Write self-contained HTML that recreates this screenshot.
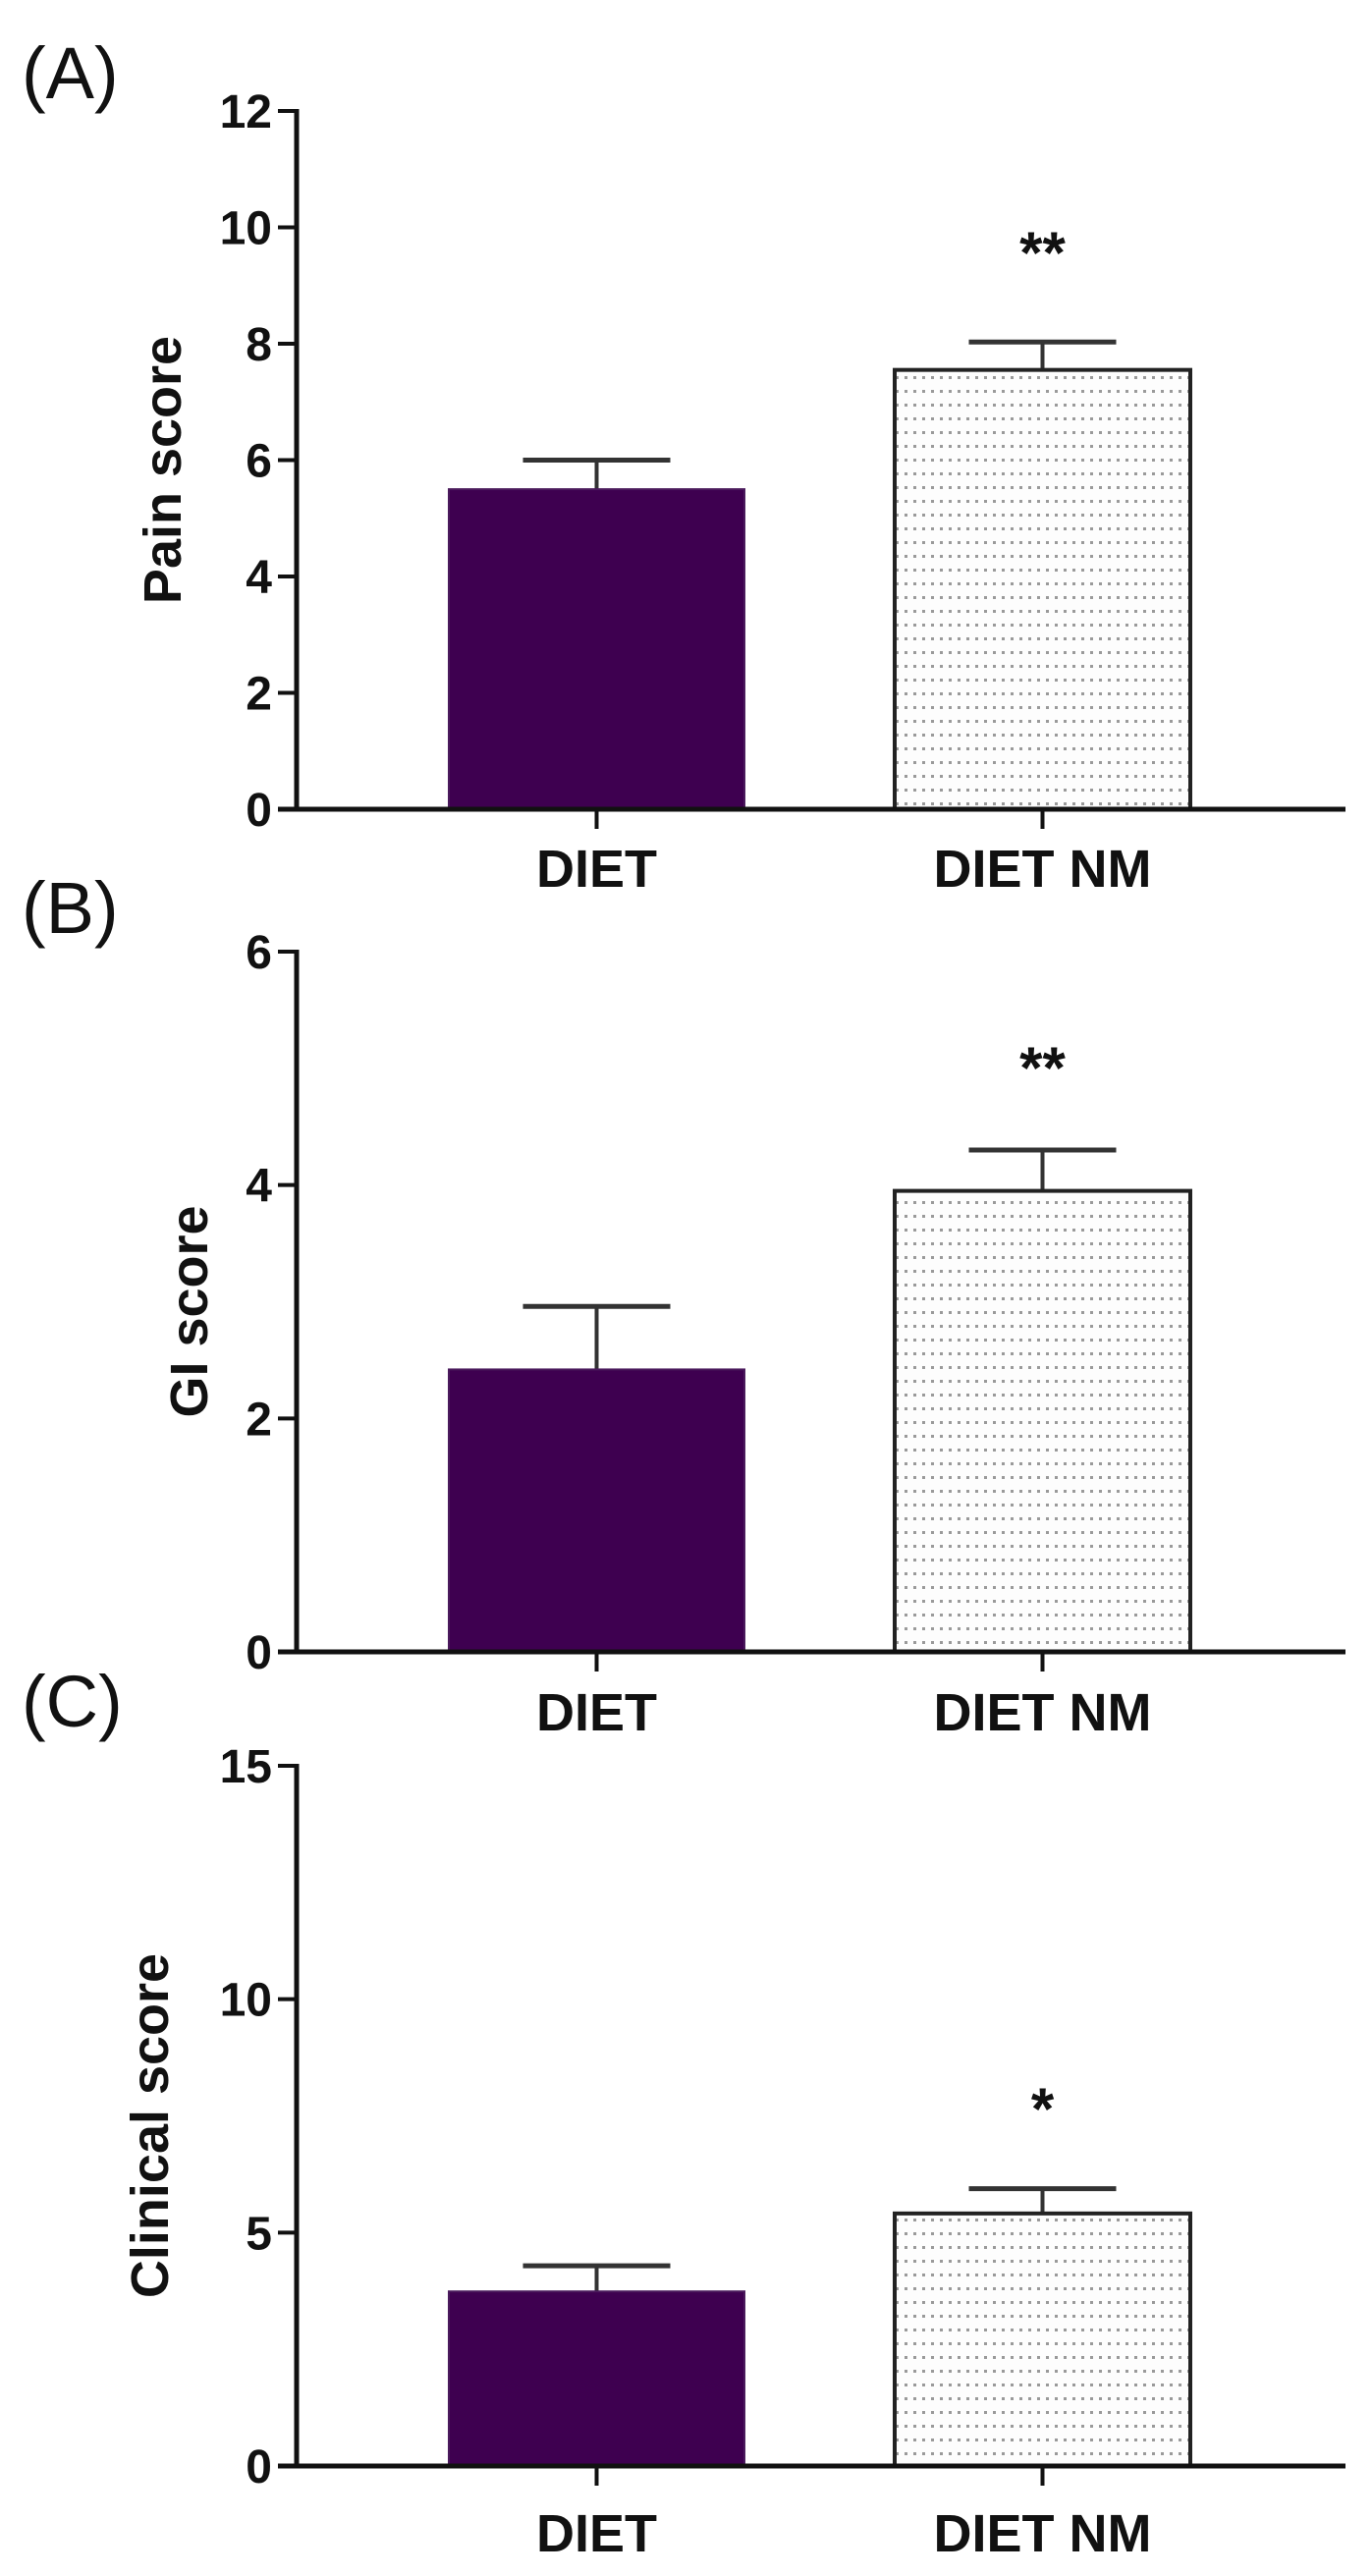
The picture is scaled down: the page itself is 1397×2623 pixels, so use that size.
<!DOCTYPE html>
<html><head><meta charset="utf-8"><style>
html,body{margin:0;padding:0;background:#fff;}
svg{display:block;}
text{font-family:"Liberation Sans",Arial,sans-serif;}
</style></head><body>
<svg id="fig" width="1397" height="2623" viewBox="0 0 1397 2623" xmlns="http://www.w3.org/2000/svg">
<defs>
<pattern id="dots" width="9" height="14" patternUnits="userSpaceOnUse">
<rect x="3" y="5" width="3" height="3" fill="#9a9a9a"/>
</pattern>
</defs>
</svg>
<script>
const categories = ["DIET", "DIET NM"];
const painMeans = [5.5, 7.55];
const painErr = [6.0, 8.03];
const painTicks = [0, 2, 4, 6, 8, 10, 12];
const giMeans = [2.42, 3.95];
const giErr = [2.96, 4.30];
const giTicks = [0, 2, 4, 6];
const clinMeans = [3.74, 5.41];
const clinErr = [4.29, 5.94];
const clinTicks = [0, 5, 10, 15];
const sigMarks = ["**", "**", "*"];

const NS = "http://www.w3.org/2000/svg";
const svg = document.getElementById('fig');
function mk(tag, attrs, parent) {
  const e = document.createElementNS(NS, tag);
  for (const k in attrs) e.setAttribute(k, attrs[k]);
  (parent || svg).appendChild(e);
  return e;
}

const panels = [
  {letter: "(A)", ly: 100, title: "Pain score", tx: 165, means: painMeans, err: painErr, ticks: painTicks, max: 12, yTop: 113, yBot: 824, sig: sigMarks[0], sigY: 278, labY: 903},
  {letter: "(B)", ly: 950, title: "GI score", tx: 192, means: giMeans, err: giErr, ticks: giTicks, max: 6, yTop: 969, yBot: 1682, sig: sigMarks[1], sigY: 1108, labY: 1762},
  {letter: "(C)", ly: 1758, title: "Clinical score", tx: 152, means: clinMeans, err: clinErr, ticks: clinTicks, max: 15, yTop: 1798, yBot: 2511, sig: sigMarks[2], sigY: 2168, labY: 2598}
];
const axisX = 302;
const barX = [457, 911];
const barW = 301;

panels.forEach((p, pi) => {
  const g = mk('g', {});
  
  
  const y = v => p.yBot - (v / p.max) * (p.yBot - p.yTop);

  const lt = mk('text', {x: 22, y: p.ly, 'font-size': 74, fill: '#111'}, g);
  lt.textContent = p.letter;
  
  

  // y axis
  const ya = mk('line', {x1: axisX, y1: p.yTop - 2, x2: axisX, y2: p.yBot + 2, stroke: '#111', 'stroke-width': 5}, g);
  
  
  p.ticks.forEach(t => {
    const ty = y(t);
    const tl = mk('line', {x1: 283, y1: ty, x2: axisX, y2: ty, stroke: '#111', 'stroke-width': 4}, g);
    
    
    const tt = mk('text', {x: 277, y: ty + 17, 'font-size': 48, 'font-weight': 'bold', 'text-anchor': 'end', fill: '#111'}, g);
    tt.textContent = t;
    
    
  });
  const yt = mk('text', {x: 0, y: 0, 'font-size': 54, 'font-weight': 'bold', 'text-anchor': 'middle', fill: '#111',
    transform: `translate(${p.tx + 19},${(p.yTop + p.yBot) / 2 + 10}) rotate(-90)`}, g);
  yt.textContent = p.title;
  
  

  // bars
  p.means.forEach((m, i) => {
    const cx = barX[i] + barW / 2;
    const eb = mk('line', {x1: cx, y1: y(p.err[i]), x2: cx, y2: y(m), stroke: '#333', 'stroke-width': 4}, g);
    
    
    const cap = mk('line', {x1: cx - 75, y1: y(p.err[i]), x2: cx + 75, y2: y(p.err[i]), stroke: '#333', 'stroke-width': 5}, g);
    
    
    let r;
    if (i === 0) {
      r = mk('rect', {x: barX[i], y: y(m), width: barW, height: p.yBot - y(m), fill: '#3e0050', stroke: '#4a1a5c', 'stroke-width': 2}, g);
    } else {
      mk('rect', {x: barX[i], y: y(m), width: barW, height: p.yBot - y(m), fill: '#fdfdfd'}, g);
      r = mk('rect', {x: barX[i], y: y(m), width: barW, height: p.yBot - y(m), fill: 'url(#dots)', stroke: '#222', 'stroke-width': 4}, g);
    }
    
    
    const xt = mk('line', {x1: cx, y1: p.yBot, x2: cx, y2: p.yBot + 20, stroke: '#111', 'stroke-width': 4}, g);
    
    
    const xl = mk('text', {x: cx, y: p.labY, 'font-size': 54, 'font-weight': 'bold', 'text-anchor': 'middle', fill: '#111'}, g);
    xl.textContent = categories[i];
    
    
  });
  const xa = mk('line', {x1: 283, y1: p.yBot, x2: 1370, y2: p.yBot, stroke: '#111', 'stroke-width': 5}, g);
  
  
  const s = mk('text', {x: barX[1] + barW / 2, y: p.sigY, 'font-size': 60, 'font-weight': 'bold', 'text-anchor': 'middle', fill: '#111'}, g);
  s.textContent = p.sig;
  
  
});
</script>
</body></html>
